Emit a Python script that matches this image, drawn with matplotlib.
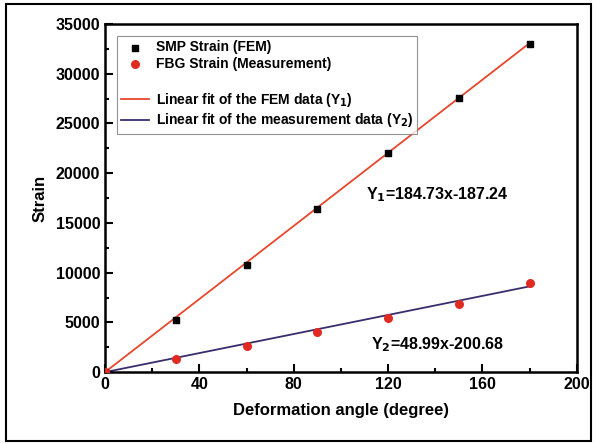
import numpy as np
import matplotlib.pyplot as plt
from matplotlib.patches import Rectangle
from matplotlib.lines import Line2D
from matplotlib.ticker import MultipleLocator

plt.rcParams['font.family'] = ['Liberation Sans', 'DejaVu Sans']
plt.rcParams['font.weight'] = 'bold'

# data
angle = [0, 30, 60, 90, 120, 150, 180]
smp_fem = [0, 5200, 10750, 16400, 22050, 27550, 33000]
fbg_meas = [0, 1300, 2600, 4050, 5400, 6850, 9000]

fit1 = (184.73, -187.24)
fit2 = (48.99, -200.68)

fig = plt.figure(figsize=(5.97, 4.43), dpi=100)
ax = fig.add_axes([0.176, 0.160, 0.790, 0.786])

xf = np.array([angle[0], angle[-1]])
l1, = ax.plot(xf, np.clip(fit1[0] * xf + fit1[1], 0, None), color='#e8472c', lw=1.3, zorder=2)
l2, = ax.plot(xf, np.clip(fit2[0] * xf + fit2[1], 0, None), color='#3b2c6b', lw=1.3, zorder=2)
s1 = ax.scatter(angle, smp_fem, marker='s', s=20, color='black', zorder=3)
s2 = ax.scatter(angle, fbg_meas, marker='o', s=30, color='#e02a22', zorder=3)

ax.set_xlim(0, 200)
ax.set_ylim(0, 35000)
ax.xaxis.set_major_locator(MultipleLocator(40))
ax.xaxis.set_minor_locator(MultipleLocator(20))
ax.yaxis.set_major_locator(MultipleLocator(5000))
ax.yaxis.set_minor_locator(MultipleLocator(2500))
ax.tick_params(which='both', direction='in', width=1.5, labelsize=11.5)
ax.tick_params(which='major', length=6)
ax.tick_params(which='minor', length=3)
for s in ax.spines.values():
    s.set_linewidth(1.8)

ax.set_xlabel('Deformation angle (degree)', fontsize=12, fontweight='bold', labelpad=8)
ax.set_ylabel('Strain', fontsize=12, fontweight='bold', labelpad=6)

ax.text(141, 17400, 'Y$_1$=184.73x-187.24', fontsize=11.5, fontweight='bold', ha='center')
ax.text(141, 2250, 'Y$_2$=48.99x-200.68', fontsize=11.5, fontweight='bold', ha='center')

blank = Line2D([], [], color='none')
leg = ax.legend([s1, s2, blank, l1, l2],
                ['SMP Strain (FEM)', 'FBG Strain (Measurement)', '',
                 'Linear fit of the FEM data (Y$_1$)',
                 'Linear fit of the measurement data (Y$_2$)'],
                loc='upper left', bbox_to_anchor=(0.025, 0.965), fontsize=10,
                frameon=True, fancybox=False, edgecolor='#777777',
                handlelength=2.0, handletextpad=0.5, labelspacing=0.2,
                borderpad=0.3, borderaxespad=0)
leg.get_frame().set_linewidth(0.8)
for t in leg.get_texts():
    t.set_fontweight('bold')

fig.patches.append(Rectangle((0.01, 0.005), 0.98, 0.985, transform=fig.transFigure,
                             fill=False, edgecolor='black', lw=1.5))

fig.savefig('out.png', dpi=100)
